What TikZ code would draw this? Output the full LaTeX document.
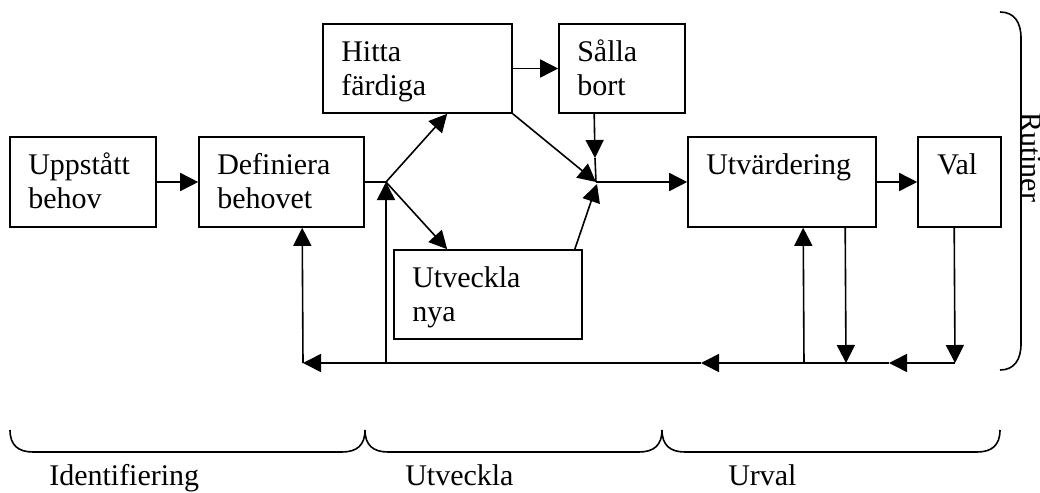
\documentclass[tikz,border=0pt]{standalone}
\usepackage{fontspec}
\setmainfont{Liberation Serif}
\usetikzlibrary{arrows.meta,calc,fit}
\begin{document}
\begin{tikzpicture}[x=0.75pt,y=-0.75pt,
  ln/.style={line width=1.2pt},
  arr/.style={ln, -{Triangle[length=13.5pt,width=13.5pt]}},
  box/.style={draw, line width=1.2pt, inner sep=0pt, rectangle},
  txt/.style={inner sep=0pt, anchor=base west, font=\fontsize{22.5}{25.5}\selectfont},
  brace/.style={line width=1.2pt}]
\useasboundingbox (0,0) rectangle (1040,493);

% boxes
\node[box, fit={(10,137) (156,227)}] (A) {};
\node[box, fit={(199,137) (364,227)}] (B) {};
\node[box, fit={(323,24) (512,113)}] (C) {};
\node[box, fit={(559,24) (685,113)}] (D) {};
\node[box, fit={(688,137) (876,227)}] (E) {};
\node[box, fit={(918,137) (1001,227)}] (F) {};
\node[box, fit={(394,250) (582,339)}] (G) {};

% box texts
\node[txt] (tA) at (28,174) {\begin{tabular}[t]{@{}l@{}}Uppstått\\behov\end{tabular}};
\node[txt] (tB) at (217,174) {\begin{tabular}[t]{@{}l@{}}Definiera\\behovet\end{tabular}};
\node[txt] (tC) at (341,61) {\begin{tabular}[t]{@{}l@{}}Hitta\\färdiga\end{tabular}};
\node[txt] (tD) at (577,61) {\begin{tabular}[t]{@{}l@{}}Sålla\\bort\end{tabular}};
\node[txt] (tE) at (706,174) {Utvärdering};
\node[txt] (tF) at (937,174) {Val};
\node[txt] (tG) at (412,287) {\begin{tabular}[t]{@{}l@{}}Utveckla\\nya\end{tabular}};

% junctions
\coordinate (J1) at (386,182);
\coordinate (J2) at (596,182);
\coordinate (S1) at (595,158);

% upper connectors
\draw[arr] (A.east) -- (B.west);
\draw[ln] (B.east) -- (J1);
\draw[arr] (J1) -- ($(C.south west)+(125,0)$);
\draw[arr] (J1) -- ($(G.north west)+(54,0)$);
\draw[arr] (C.east) -- (D.west);
\draw[arr] ($(D.south west)+(36,0)$) -- (S1);
\draw[ln] (S1) -- (J2);
\draw[arr] (C.south east) -- (J2);
\draw[arr] ($(G.north east)+(-8,0)$) -- ($(J2)+(1,2)$);
\draw[arr] (J2) -- (E.west);
\draw[arr] (E.east) -- (F.west);

% feedback line
\coordinate (bV) at (955,363);
\coordinate (m1) at (889,363);
\coordinate (bE) at (846,363);
\coordinate (bU) at (804,363);
\coordinate (m2) at (701,363);
\coordinate (bJ) at (386,363);
\coordinate (bL) at (303,363);
\draw[arr] ($(F.south west)+(37,0)$) -- (bV);
\draw[arr] ($(E.south west)+(158,0)$) -- (bE);
\draw[arr] (bV) -- (m1);
\draw[ln] (m1) -- (bE);
\draw[arr] (bE) -- (m2);
\draw[arr] (m2) -- (bL);
\draw[arr] (bU) -- ($(E.south west)+(116,0)$);
\draw[arr] (bJ) -- (J1);
\draw[arr] (bL) -- ($(B.south west)+(104,0)$);

% braces
\draw[brace] (10,430) .. controls (10,445) and (18,452) .. (33,452) -- (342,452)
  .. controls (357,452) and (365,445) .. (365,430)
  .. controls (365,445) and (373,452) .. (388,452) -- (639,452)
  .. controls (654,452) and (662,445) .. (662,430)
  .. controls (662,445) and (670,452) .. (685,452) -- (977,452)
  .. controls (992,452) and (1000,445) .. (1000,430);
\draw[brace] (1000,12) .. controls (1014,12) and (1021,22) .. (1021,38) -- (1021,344)
  .. controls (1021,360) and (1014,370) .. (1000,370);

% labels
\node[txt] (L1) at (49,485) {Identifiering};
\node[txt] (L2) at (405,485) {Utveckla};
\node[txt] (L3) at (728,485) {Urval};
\node[txt, anchor=base, rotate=-90] (R) at (1021,157) {Rutiner};
\end{tikzpicture}
\end{document}
